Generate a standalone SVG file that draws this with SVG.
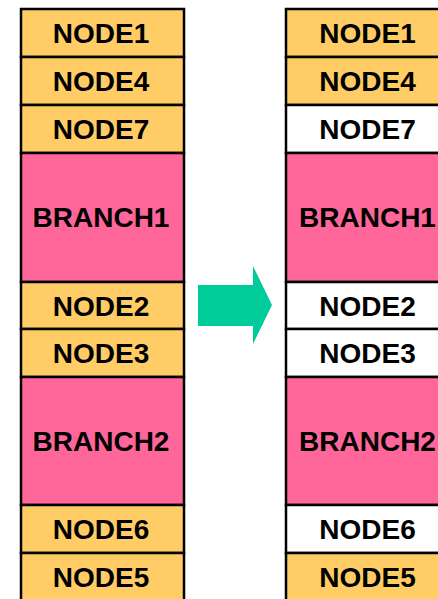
<svg xmlns="http://www.w3.org/2000/svg" width="438" height="599" viewBox="0 0 438 599">
<style>
.o{fill:#FFCC66;stroke:#000;stroke-width:2.5}
.p{fill:#FF6699;stroke:#000;stroke-width:2.5}
.w{fill:#FFFFFF;stroke:#000;stroke-width:2.5}
text{font-family:"Liberation Sans",Arial,sans-serif;font-weight:bold;font-size:28px;fill:#000;text-anchor:middle}
</style>
<rect width="438" height="599" fill="#fff"/>
<g id="left">
<g id="l-node1"><rect class="o" x="21" y="9" width="163" height="48"/><text x="101" y="43">NODE1</text></g>
<g id="l-node4"><rect class="o" x="21" y="57" width="163" height="48"/><text x="101" y="91">NODE4</text></g>
<g id="l-node7"><rect class="o" x="21" y="105" width="163" height="48"/><text x="101" y="139">NODE7</text></g>
<g id="l-branch1"><rect class="p" x="21" y="153" width="163" height="129"/><text x="101" y="227">BRANCH1</text></g>
<g id="l-node2"><rect class="o" x="21" y="282" width="163" height="47"/><text x="101" y="316">NODE2</text></g>
<g id="l-node3"><rect class="o" x="21" y="329" width="163" height="48"/><text x="101" y="363">NODE3</text></g>
<g id="l-branch2"><rect class="p" x="21" y="377" width="163" height="128"/><text x="101" y="451">BRANCH2</text></g>
<g id="l-node6"><rect class="o" x="21" y="505" width="163" height="48"/><text x="101" y="539">NODE6</text></g>
<g id="l-node5"><rect class="o" x="21" y="553" width="163" height="48"/><text x="101" y="587">NODE5</text></g>
</g>
<g id="connectors">
<polygon points="198,285 253,285 253,266 272,305 253,344 253,326 198,326" fill="#00CC99"/>
</g>
<g id="right">
<g id="r-node1"><rect class="o" x="286" y="9" width="163" height="48"/><text x="367.5" y="43">NODE1</text></g>
<g id="r-node4"><rect class="o" x="286" y="57" width="163" height="48"/><text x="367.5" y="91">NODE4</text></g>
<g id="r-node7"><rect class="w" x="286" y="105" width="163" height="48"/><text x="367.5" y="139">NODE7</text></g>
<g id="r-branch1"><rect class="p" x="286" y="153" width="163" height="129"/><text x="367.5" y="227">BRANCH1</text></g>
<g id="r-node2"><rect class="w" x="286" y="282" width="163" height="47"/><text x="367.5" y="316">NODE2</text></g>
<g id="r-node3"><rect class="w" x="286" y="329" width="163" height="48"/><text x="367.5" y="363">NODE3</text></g>
<g id="r-branch2"><rect class="p" x="286" y="377" width="163" height="128"/><text x="367.5" y="451">BRANCH2</text></g>
<g id="r-node6"><rect class="w" x="286" y="505" width="163" height="48"/><text x="367.5" y="539">NODE6</text></g>
<g id="r-node5"><rect class="o" x="286" y="553" width="163" height="48"/><text x="367.5" y="587">NODE5</text></g>
</g>
</svg>
